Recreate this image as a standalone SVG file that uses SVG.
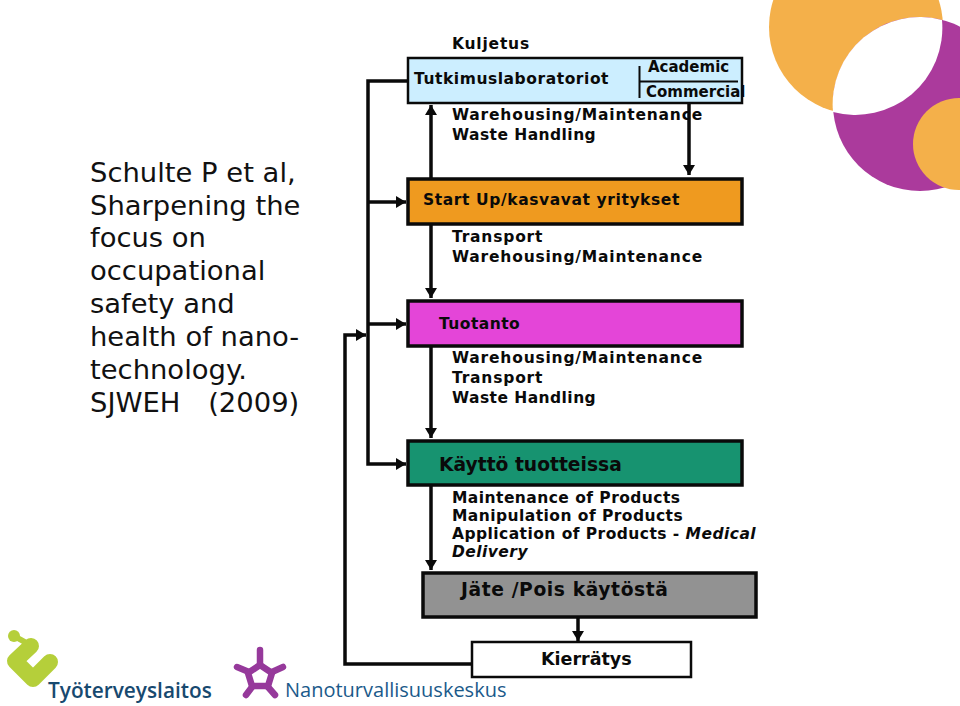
<svg xmlns="http://www.w3.org/2000/svg" width="960" height="706" viewBox="0 0 960 706">
<style>
text{font-family:"DejaVu Sans","Liberation Sans",sans-serif;fill:#0a0a0a}
.b{font-weight:700;font-size:15.5px;letter-spacing:.8px}
.s{font-weight:700;font-size:15.5px;letter-spacing:.45px}
.z{font-weight:700;font-size:15px}
.h{font-weight:700;font-size:18.700px}
.t{font-size:27.400px;fill:#111}
.box{stroke:#0a0a0a;stroke-width:3.5}
.c{fill:none;stroke:#0a0a0a;stroke-width:3.5}
</style>
<defs>
<marker id="a" markerUnits="userSpaceOnUse" markerWidth="11" markerHeight="12" refX="10" refY="6" orient="auto"><path d="M0 0L10 6L0 12z" fill="#0a0a0a"/></marker>
</defs>
<rect width="960" height="706" fill="#fff"/>
<g id="deco">
<circle cx="856" cy="27" r="87" fill="#f4b04a"/>
<circle cx="920" cy="104" r="87" fill="#ab3a9c"/>
<path d="M942 20A87 87 0 0 0 833 112A87 87 0 0 0 942 20z" fill="#fff"/>
<circle cx="959" cy="144" r="46" fill="#f4b04a"/>
</g>
<g id="citation">
<text class="t" x="90" y="182">Schulte P et al,</text>
<text class="t" x="90" y="215">Sharpening the</text>
<text class="t" x="90" y="247">focus on</text>
<text class="t" x="90" y="280">occupational</text>
<text class="t" x="90" y="313">safety and</text>
<text class="t" x="90" y="346">health of nano-</text>
<text class="t" x="90" y="379">technology.</text>
<text class="t" x="90" y="412">SJWEH <tspan dx="19">(2009)</tspan></text>
</g>
<g id="connectors">
<path class="c" d="M408 81H368V464H406" marker-end="url(#a)"/>
<path class="c" d="M368 202H406" marker-end="url(#a)"/>
<path class="c" d="M368 324H406" marker-end="url(#a)"/>
<path class="c" d="M472 664H345V335H366" marker-end="url(#a)"/>
<path class="c" d="M431 178V105" marker-end="url(#a)"/>
<path class="c" d="M689 103V175" marker-end="url(#a)"/>
<path class="c" d="M431 224V298" marker-end="url(#a)"/>
<path class="c" d="M431 346V438" marker-end="url(#a)"/>
<path class="c" d="M431 486V570" marker-end="url(#a)"/>
<path class="c" d="M578 617V641" marker-end="url(#a)"/>
</g>
<g id="kuljetus"><text class="b" x="452" y="49">Kuljetus</text></g>
<g id="tutkimus">
<rect x="408" y="58" width="334" height="45" fill="#cceeff" stroke="#0a0a0a" stroke-width="2.5"/>
<text class="s" x="414" y="84" style="letter-spacing:.55px">Tutkimuslaboratoriot</text>
<path d="M639.500 66V98M639 81.500H738" fill="none" stroke="#0a0a0a" stroke-width="2"/>
<text class="z" x="648" y="72">Academic</text>
<text class="z" x="646" y="97">Commercial</text>
</g>
<g id="labels1">
<text class="b" x="452" y="120">Warehousing/Maintenance</text>
<text class="s" x="452" y="140">Waste Handling</text>
</g>
<g id="startup">
<rect class="box" x="408" y="179" width="334" height="45" fill="#ef9a1f"/>
<text class="s" x="423" y="205" style="letter-spacing:.6px">Start Up/kasvavat yritykset</text>
</g>
<g id="labels2">
<text class="b" x="452" y="242">Transport</text>
<text class="b" x="452" y="262">Warehousing/Maintenance</text>
</g>
<g id="tuotanto">
<rect class="box" x="408" y="301" width="334" height="45" fill="#e445d8"/>
<text class="s" x="439" y="329">Tuotanto</text>
</g>
<g id="labels3">
<text class="b" x="452" y="363">Warehousing/Maintenance</text>
<text class="b" x="452" y="383">Transport</text>
<text class="s" x="452" y="403">Waste Handling</text>
</g>
<g id="kaytto">
<rect class="box" x="408" y="441" width="334" height="44" fill="#179370"/>
<text class="h" x="439" y="471">Käyttö tuotteissa</text>
</g>
<g id="labels4">
<text class="s" x="452" y="503">Maintenance of Products</text>
<text class="s" x="452" y="521">Manipulation of Products</text>
<text class="s" x="452" y="539">Application of Products - <tspan font-style="italic">Medical</tspan></text>
<text class="s" x="452" y="557" font-style="italic">Delivery</text>
</g>
<g id="jate">
<rect class="box" x="423" y="573" width="333" height="44" fill="#929292"/>
<text class="h" x="461" y="596" style="letter-spacing:.6px">Jäte /Pois käytöstä</text>
</g>
<g id="kierratys">
<rect x="472" y="642" width="219" height="35" fill="#fff" stroke="#0a0a0a" stroke-width="2.500"/>
<text class="h" x="541" y="665" style="font-size:17.500px">Kierrätys</text>
</g>
<g id="logo-tyoterveyslaitos">
<path d="M14 636L32 646" fill="none" stroke="#b5cf3a" stroke-width="6" stroke-linecap="round"/>
<circle cx="14" cy="636" r="6" fill="#b5cf3a"/>
<path d="M31 646L15 661L33 679L50 662" fill="none" stroke="#b5cf3a" stroke-width="16" stroke-linecap="round" stroke-linejoin="round"/>
<text x="48" y="698" style="font-family:'Open Sans',sans-serif;font-weight:600;font-size:20.800px;fill:#17496f">Työterveyslaitos</text>
</g>
<g id="logo-nanoturvallisuuskeskus">
<path d="M260 650V664M237 667L249 672M283 667L272 672M246 695L252 687M275 695L268 687" fill="none" stroke="#96399b" stroke-width="6.500" stroke-linecap="round"/>
<path d="M260 665L272 673L268 686H252L248 673z" fill="#fff" stroke="#96399b" stroke-width="6.500" stroke-linejoin="round"/>
<text x="285" y="697" style="font-family:'Open Sans',sans-serif;font-size:20px;fill:#1b5a8a">Nanoturvallisuuskeskus</text>
</g>
</svg>
